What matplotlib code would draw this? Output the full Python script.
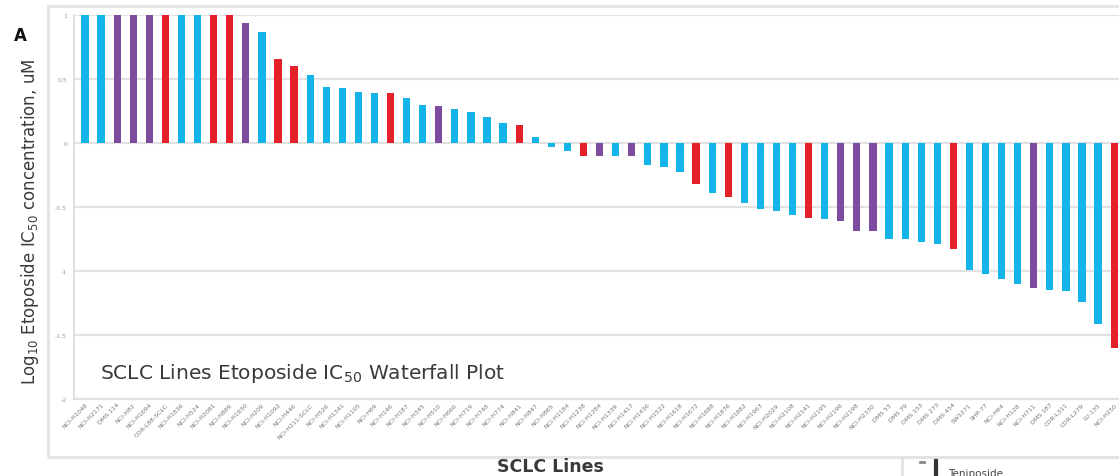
import matplotlib
matplotlib.use("Agg")
import matplotlib.pyplot as plt
from matplotlib.patches import Rectangle
from matplotlib.lines import Line2D

# ---- data ----
cell_lines = [
    "NCI-H1048", "NCI-H2171", "DMS 114", "NCI-H82", "NCI-H1694", "COR-L88-SCLC",
    "NCI-H1836", "NCI-H524", "NCI-H2081", "NCI-H889", "NCI-H1930", "NCI-H209",
    "NCI-H1092", "NCI-H446", "NCI-H211-SCLC", "NCI-H526", "NCI-H1341", "NCI-H1105",
    "NCI-H69", "NCI-H146", "NCI-H187", "NCI-H345", "NCI-H510", "NCI-H660",
    "NCI-H719", "NCI-H748", "NCI-H774", "NCI-H841", "NCI-H847", "NCI-H865",
    "NCI-H1184", "NCI-H1238", "NCI-H1284", "NCI-H1339", "NCI-H1417", "NCI-H1436",
    "NCI-H1522", "NCI-H1618", "NCI-H1672", "NCI-H1688", "NCI-H1876", "NCI-H1882",
    "NCI-H1963", "NCI-H2029", "NCI-H2108", "NCI-H2141", "NCI-H2195", "NCI-H2196",
    "NCI-H2198", "NCI-H2330", "DMS 53", "DMS 79", "DMS 153", "DMS 273",
    "DMS 454", "SW1271", "SHP-77", "NCI-H64", "NCI-H128", "NCI-H711",
    "DMS 187", "COR-L311", "COR-L279", "LU-135", "NCI-H250",
]

log_ic50 = [
    1.0, 1.0, 1.0, 1.0, 1.0, 1.0, 1.0, 1.0, 1.0, 1.0,
    0.94, 0.865, 0.66, 0.60, 0.53, 0.435, 0.427, 0.396, 0.39, 0.39,
    0.349, 0.30, 0.29, 0.266, 0.245, 0.20, 0.16, 0.14, 0.044,
    -0.034, -0.06, -0.10, -0.104, -0.104, -0.104, -0.17, -0.185, -0.224, -0.32,
    -0.39, -0.425, -0.465, -0.513, -0.532, -0.56, -0.585, -0.59, -0.61, -0.688,
    -0.688, -0.752, -0.752, -0.776, -0.792, -0.828, -0.995, -1.02, -1.06, -1.105,
    -1.135, -1.152, -1.16, -1.24, -1.415, -1.60,
]

groups = [
    "blue", "blue", "purple", "purple", "purple", "red", "blue", "blue", "red", "red",
    "purple", "blue", "red", "red", "blue", "blue", "blue", "blue", "blue", "red",
    "blue", "blue", "purple", "blue", "blue", "blue", "blue", "red", "blue",
    "blue", "blue", "red", "purple", "blue", "purple", "blue", "blue", "blue", "red",
    "blue", "red", "blue", "blue", "blue", "blue", "red", "blue", "purple", "purple",
    "purple", "blue", "blue", "blue", "blue", "red", "blue", "blue", "blue", "blue",
    "purple", "blue", "blue", "blue", "blue", "red",
]

y_ticks = [1, 0.5, 0, -0.5, -1, -1.5, -2]
y_tick_labels = ["1", "0.5", "0", "-0.5", "-1", "-1.5", "-2"]

palette = {"blue": "#13B4EA", "purple": "#7D4C9E", "red": "#E4212A"}

# ---- figure ----
W, H = 1119, 477
fig = plt.figure(figsize=(W / 100, H / 100), dpi=100)

def fx(px):
    return px / W

def fy(py):
    return 1 - py / H

# outer chart frame
fig.add_artist(Rectangle((fx(48), fy(458)), fx(1200) - fx(48), fy(7) - fy(458),
                         transform=fig.transFigure, fill=False,
                         edgecolor="#e3e3e3", linewidth=2.0))

ax = fig.add_axes([fx(74), fy(400), fx(1119) - fx(74), fy(16) - fy(400)])

x = list(range(len(log_ic50)))
colors = [palette[g] for g in groups]
ax.bar(x, log_ic50, width=0.45, color=colors, zorder=3)

ax.set_xlim(-0.684, 64.3)
ax.set_ylim(-2, 1)
ax.set_yticks(y_ticks)
ax.set_yticklabels(y_tick_labels, fontsize=4.5, color="#9a9a9a")
ax.yaxis.grid(True, color="#e2e2e2", linewidth=1.6, zorder=0)
ax.tick_params(axis="y", length=0, pad=5)
ax.tick_params(axis="x", length=0, pad=2)
ax.set_xticks(x)
ax.set_xticklabels(cell_lines, rotation=45, ha="right", rotation_mode="anchor",
                   fontsize=4.5, color="#777777")
for s in ["top", "right"]:
    ax.spines[s].set_visible(False)
for s in ["left", "bottom"]:
    ax.spines[s].set_color("#e0e0e0")
    ax.spines[s].set_linewidth(1.6)

ax.text(0.025, 0.068, r"SCLC Lines Etoposide IC$_{50}$ Waterfall Plot",
        transform=ax.transAxes, fontsize=14.5, color="#3a3a3a",
        ha="left", va="center")

fig.text(fx(30), fy(222), r"Log$_{10}$ Etoposide IC$_{50}$ concentration, uM",
         rotation=90, fontsize=12, color="#3a3a3a", ha="center", va="center")

fig.text(fx(20), fy(36), "A", fontsize=12, fontweight="bold", color="#111111",
         ha="center", va="center")

fig.text(fx(550), fy(467), "SCLC Lines", fontsize=12.5, fontweight="bold",
         color="#3a3a3a", ha="center", va="center")

# legend box (cut off at the bottom)
fig.add_artist(Rectangle((fx(902), fy(520)), fx(1200) - fx(902), fy(458) - fy(520),
                         transform=fig.transFigure, fill=False,
                         edgecolor="#e3e3e3", linewidth=2.0))
fig.add_artist(Line2D([fx(920), fx(924)], [fy(463), fy(463)],
                      transform=fig.transFigure, color="#888888", linewidth=2))
fig.add_artist(Line2D([fx(936), fx(936)], [fy(462), fy(480)],
                      transform=fig.transFigure, color="#333333", linewidth=3))
fig.text(fx(948), fy(474), "Teniposide", fontsize=7.5, color="#444444",
         ha="left", va="center")

fig.savefig("out.png", dpi=100)
